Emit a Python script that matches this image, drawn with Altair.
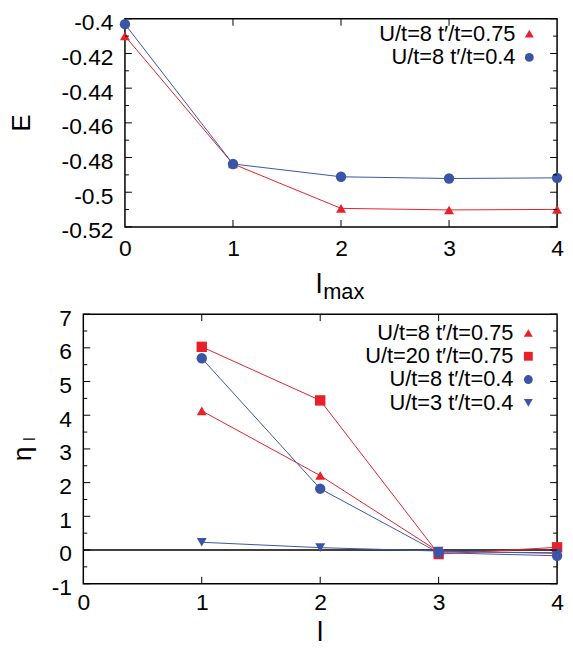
import altair as alt
import pandas as pd

FONT = "Liberation Sans"
RED = "#e8202a"
BLUE = "#3a55a5"

# ---------------- data: top panel (E vs l_max) ----------------
lmax = [0, 1, 2, 3, 4]
E_u8_t075 = [-0.4099, -0.4837, -0.5093, -0.5102, -0.5099]
E_u8_t04 = [-0.4031, -0.4837, -0.4911, -0.4921, -0.4917]
E_ticks = [-0.52, -0.5, -0.48, -0.46, -0.44, -0.42, -0.4]
E_minor = [-0.51, -0.49, -0.47, -0.45, -0.43, -0.41]
top_labels = ["U/t=8 t\u2032/t=0.75", "U/t=8 t\u2032/t=0.4"]

# ---------------- data: bottom panel (eta_l vs l) ----------------
l_vals = [1, 2, 3, 4]
eta_u8_t075 = [4.13, 2.21, -0.05, -0.08]
eta_u20_t075 = [6.03, 4.44, -0.12, 0.08]
eta_u8_t04 = [5.69, 1.82, -0.08, -0.17]
eta_u3_t04 = [0.23, 0.07, -0.03, -0.10]
eta_ticks = [-1, 0, 1, 2, 3, 4, 5, 6, 7]
eta_minor = [-0.5, 0.5, 1.5, 2.5, 3.5, 4.5, 5.5, 6.5]
bot_labels = ["U/t=8 t\u2032/t=0.75", "U/t=20 t\u2032/t=0.75",
              "U/t=8 t\u2032/t=0.4", "U/t=3 t\u2032/t=0.4"]
x_ticks = [0, 1, 2, 3, 4]
x_inner = [1, 2, 3]
zero_line = [0]

LABEL_SIZE = 23
KEY_SIZE = 22


def axes(yticks, yoffset, xpad):
    ax_x = alt.Axis(values=x_ticks, title=None, ticks=False, domain=False,
                    grid=False, labelFlush=False, labelPadding=xpad,
                    labelFontSize=LABEL_SIZE, labelFont=FONT,
                    labelColor="black", format="d")
    ax_y = alt.Axis(values=yticks, title=None, ticks=False, domain=False,
                    grid=False, labelFlush=False, labelPadding=12,
                    labelFontSize=LABEL_SIZE, labelFont=FONT,
                    labelColor="black", labelBaseline="alphabetic",
                    labelOffset=11, offset=yoffset,
                    labelExpr="'' + datum.value")
    return ax_x, ax_y


def panel(W, H, X0, xpad, xs, ys, xvals, yticks, yminor, series, legend_rows,
          legend_x, legend_sym_x, legend_y0, legend_dy):
    ax_x, ax_y = axes(yticks, -X0, xpad)
    layers = []
    for lab, vals, color, shape, size in series:
        df = pd.DataFrame({"x": xvals, "y": vals, "series": lab})
        base = alt.Chart(df).encode(
            x=alt.X("x:Q", scale=xs, axis=ax_x),
            y=alt.Y("y:Q", scale=ys, axis=ax_y))
        layers.append(base.mark_line(color=color, strokeWidth=1))
        layers.append(base.mark_point(filled=True, color=color, shape=shape,
                                      size=size, opacity=1))
    # inward ticks (gnuplot style)
    ymaj = pd.DataFrame({"v": yticks})
    ymin = pd.DataFrame({"v": yminor})
    xin = pd.DataFrame({"v": x_inner})
    for dfm, L in ((ymaj, 7), (ymin, 4)):
        c = alt.Chart(dfm).mark_rule(color="black", strokeWidth=1)
        layers.append(c.encode(y=alt.Y("v:Q", scale=ys, axis=ax_y),
                               x=alt.value(X0), x2=alt.value(X0 + L)))
        layers.append(c.encode(y=alt.Y("v:Q", scale=ys, axis=ax_y),
                               x=alt.value(W - L), x2=alt.value(W)))
    c = alt.Chart(xin).mark_rule(color="black", strokeWidth=1)
    layers.append(c.encode(x=alt.X("v:Q", scale=xs, axis=ax_x),
                           y=alt.value(H), y2=alt.value(H - 7)))
    layers.append(c.encode(x=alt.X("v:Q", scale=xs, axis=ax_x),
                           y=alt.value(0), y2=alt.value(7)))
    # key: text then symbol on the right
    for r, (lab, color, shape) in enumerate(legend_rows):
        yy = legend_y0 + legend_dy * r
        d = pd.DataFrame({"label": [lab]})
        layers.append(alt.Chart(d).mark_text(
            align="right", baseline="middle", font=FONT, fontSize=KEY_SIZE,
            color="black").encode(text="label:N", x=alt.value(legend_x),
                                  y=alt.value(yy)))
        layers.append(alt.Chart(d).mark_point(
            filled=True, color=color, shape=shape, size=80, opacity=1).encode(
            x=alt.value(legend_sym_x), y=alt.value(yy)))
    return layers, ax_x, ax_y


W = 478

# ---------------- top panel ----------------
# Same plot width as the bottom panel, but the frame starts further right:
# the x scale is widened to the left and the frame is drawn as a rect.
H1 = 210
X0_TOP = 42
x_lo = -X0_TOP * 4 / (W - X0_TOP)
xs1 = alt.Scale(domain=[x_lo, 4], nice=False, zero=False)
ys1 = alt.Scale(domain=[-0.52, -0.4], nice=False, zero=False)
top_series = [
    (top_labels[0], E_u8_t075, RED, "triangle-up", 100),
    (top_labels[1], E_u8_t04, BLUE, "circle", 110),
]
top_rows = [(top_labels[0], RED, "triangle-up"), (top_labels[1], BLUE, "circle")]
top_layers, ax_x1, ax_y1 = panel(W, H1, X0_TOP, 11, xs1, ys1, lmax, E_ticks,
                                 E_minor, top_series, top_rows, 436, 450, 15, 24)
frame = pd.DataFrame({"x0": [min(lmax)], "x1": [max(lmax)],
                      "y0": [min(E_ticks)], "y1": [max(E_ticks)]})
top_layers.insert(0, alt.Chart(frame).mark_rect(
    fill="transparent", stroke="black", strokeWidth=1.5).encode(
    x=alt.X("x0:Q", scale=xs1, axis=ax_x1), x2="x1:Q",
    y=alt.Y("y0:Q", scale=ys1, axis=ax_y1), y2="y1:Q"))
t = pd.DataFrame({"s": ["E", "l", "max"]})
top_layers.append(alt.Chart(t.iloc[[0]]).mark_text(
    angle=270, align="center", baseline="middle", font=FONT, fontSize=26,
    color="black").encode(text="s:N", x=alt.value(-62), y=alt.value(H1 / 2)))
top_layers.append(alt.Chart(t.iloc[[1]]).mark_text(
    align="right", baseline="alphabetic", font=FONT, fontSize=28,
    color="black").encode(text="s:N", x=alt.value(241), y=alt.value(H1 + 67)))
top_layers.append(alt.Chart(t.iloc[[2]]).mark_text(
    align="left", baseline="alphabetic", font=FONT, fontSize=22,
    color="black").encode(text="s:N", x=alt.value(242), y=alt.value(H1 + 73)))
top = alt.layer(*top_layers).properties(
    width=W, height=H1, view=alt.ViewBackground(stroke="transparent"))

# ---------------- bottom panel ----------------
H2 = 272
xs2 = alt.Scale(domain=[0, 4], nice=False)
ys2 = alt.Scale(domain=[-1, 7], nice=False, zero=False)
bot_series = [
    (bot_labels[0], eta_u8_t075, RED, "triangle-up", 100),
    (bot_labels[1], eta_u20_t075, RED, "square", 110),
    (bot_labels[2], eta_u8_t04, BLUE, "circle", 110),
    (bot_labels[3], eta_u3_t04, BLUE, "triangle-down", 100),
]
bot_rows = [(bot_labels[0], RED, "triangle-up"), (bot_labels[1], RED, "square"),
            (bot_labels[2], BLUE, "circle"), (bot_labels[3], BLUE, "triangle-down")]
bot_layers, _, ax_y2 = panel(W, H2, 0, 8, xs2, ys2, l_vals, eta_ticks, eta_minor,
                             bot_series, bot_rows, 434, 449, 19, 23.5)
zl = alt.Chart(pd.DataFrame({"v": zero_line})).mark_rule(
    color="black", strokeWidth=1.5).encode(y=alt.Y("v:Q", scale=ys2, axis=ax_y2))
bot_layers = [zl] + bot_layers
b = pd.DataFrame({"s": ["\u03b7", "l", "l"]})
bot_layers.append(alt.Chart(b.iloc[[0]]).mark_text(
    angle=270, align="center", baseline="middle", font=FONT, fontSize=26,
    color="black").encode(text="s:N", x=alt.value(-61), y=alt.value(H2 / 2 + 5)))
bot_layers.append(alt.Chart(b.iloc[[1]]).mark_text(
    angle=270, align="center", baseline="middle", font=FONT, fontSize=17,
    color="black").encode(text="s:N", x=alt.value(-54), y=alt.value(H2 / 2 - 10)))
bot_layers.append(alt.Chart(b.iloc[[2]]).mark_text(
    align="center", baseline="alphabetic", font=FONT, fontSize=28,
    color="black").encode(text="s:N", x=alt.value(W / 2), y=alt.value(H2 + 58)))
bottom = alt.layer(*bot_layers).properties(
    width=W, height=H2, view=alt.ViewBackground(stroke="black", strokeWidth=1.5))

chart = alt.vconcat(top, bottom, spacing=2).properties(
    padding={"left": 0, "top": 0, "right": 0, "bottom": 0}
).configure(background="white")

chart.save("out.html", embed_options={"renderer": "svg", "actions": False})
